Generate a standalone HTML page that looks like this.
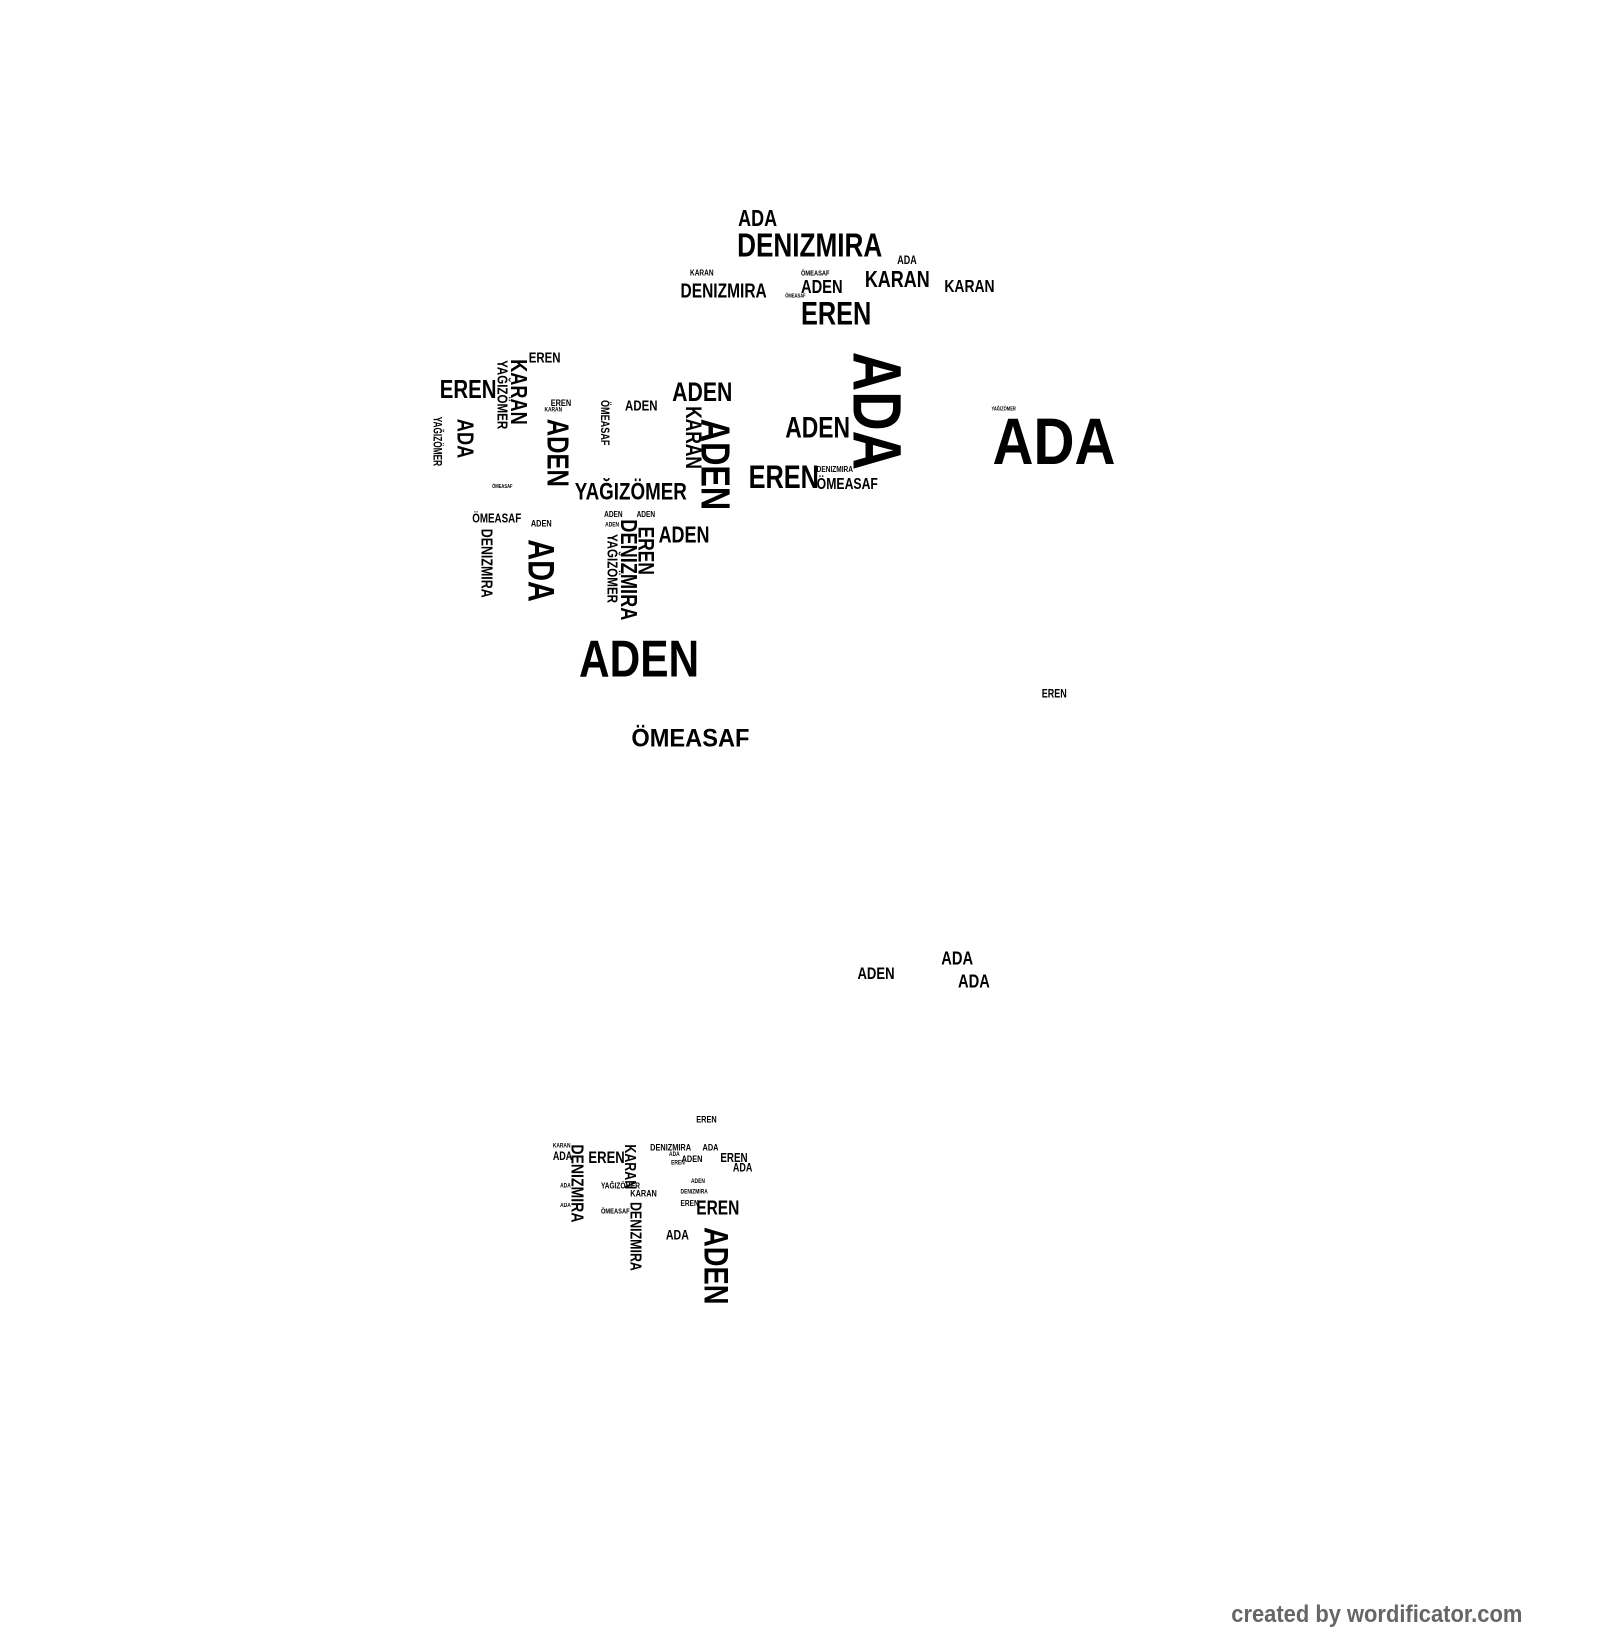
<!DOCTYPE html>
<html><head><meta charset="utf-8"><style>
html,body{margin:0;padding:0;background:#fff;width:1600px;height:1640px;overflow:hidden}
#c{position:absolute;left:0;top:0;width:1530px;height:1570px;transform:scale(1.047);transform-origin:0 0}
#c span{position:absolute;white-space:nowrap;line-height:1;font-family:"Liberation Sans Narrow","Liberation Sans",sans-serif;font-weight:bold;color:#000}
.h{margin-top:-0.114em;transform:scaleX(0.78);transform-origin:0 0}
.v{transform:rotate(90deg) scaleX(0.79);transform-origin:0 0;margin-left:0.114em}
</style></head><body><div id="c">
<span class="h" style="left:705px;top:200px;font-size:22px">ADA</span>
<span class="h" style="left:704px;top:222px;font-size:32px">DENIZMIRA</span>
<span class="h" style="left:857px;top:245px;font-size:11px">ADA</span>
<span class="h" style="left:659px;top:258px;font-size:8px">KARAN</span>
<span class="h" style="left:650px;top:271px;font-size:19px">DENIZMIRA</span>
<span class="h" style="left:765px;top:259px;font-size:7px">ÖMEASAF</span>
<span class="h" style="left:765px;top:267px;font-size:18px">ADEN</span>
<span class="h" style="left:826px;top:258px;font-size:22px">KARAN</span>
<span class="h" style="left:902px;top:267px;font-size:17px">KARAN</span>
<span class="h" style="left:765px;top:288px;font-size:31px">EREN</span>
<span class="h" style="left:750px;top:282px;font-size:5px">ÖMEASAF</span>
<span class="h" style="left:505px;top:336px;font-size:14px">EREN</span>
<span class="h" style="left:420px;top:363px;font-size:25px">EREN</span>
<span class="h" style="left:642px;top:364px;font-size:26px">ADEN</span>
<span class="h" style="left:526px;top:382px;font-size:9px">EREN</span>
<span class="h" style="left:520px;top:390px;font-size:6px">KARAN</span>
<span class="h" style="left:597px;top:382px;font-size:14px">ADEN</span>
<span class="h" style="left:750px;top:398px;font-size:28px">ADEN</span>
<span class="h" style="left:948px;top:398px;font-size:63px;transform:scaleX(0.86)">ADA</span>
<span class="h" style="left:947px;top:390px;font-size:5px">YAĞIZÖMER</span>
<span class="h" style="left:715px;top:444px;font-size:31px">EREN</span>
<span class="h" style="left:780px;top:446px;font-size:8px">DENIZMIRA</span>
<span class="h" style="left:780px;top:457px;font-size:15px">ÖMEASAF</span>
<span class="h" style="left:549px;top:461px;font-size:23px">YAĞIZÖMER</span>
<span class="h" style="left:470px;top:464px;font-size:5px">ÖMEASAF</span>
<span class="h" style="left:451px;top:490px;font-size:12px">ÖMEASAF</span>
<span class="h" style="left:507px;top:497px;font-size:9px">ADEN</span>
<span class="h" style="left:577px;top:489px;font-size:8px">ADEN</span>
<span class="h" style="left:608px;top:489px;font-size:8px">ADEN</span>
<span class="h" style="left:578px;top:500px;font-size:6px">ADEN</span>
<span class="h" style="left:629px;top:502px;font-size:22px">ADEN</span>
<span class="h" style="left:553px;top:610px;font-size:50px;transform:scaleX(0.81)">ADEN</span>
<span class="h" style="left:603px;top:697px;font-size:24px;transform:scaleX(0.94)">ÖMEASAF</span>
<span class="h" style="left:995px;top:659px;font-size:11px">EREN</span>
<span class="h" style="left:899px;top:908px;font-size:18px">ADA</span>
<span class="h" style="left:819px;top:925px;font-size:16px">ADEN</span>
<span class="h" style="left:915px;top:930px;font-size:18px">ADA</span>
<span class="h" style="left:665px;top:1066px;font-size:9px">EREN</span>
<span class="h" style="left:528px;top:1093px;font-size:6px">KARAN</span>
<span class="h" style="left:528px;top:1101px;font-size:11px">ADA</span>
<span class="h" style="left:562px;top:1101px;font-size:16px">EREN</span>
<span class="h" style="left:621px;top:1093px;font-size:9px">DENIZMIRA</span>
<span class="h" style="left:671px;top:1093px;font-size:9px">ADA</span>
<span class="h" style="left:651px;top:1104px;font-size:9px">ADEN</span>
<span class="h" style="left:639px;top:1101px;font-size:6px">ADA</span>
<span class="h" style="left:641px;top:1109px;font-size:6px">EREN</span>
<span class="h" style="left:688px;top:1101px;font-size:12px">EREN</span>
<span class="h" style="left:700px;top:1112px;font-size:11px">ADA</span>
<span class="h" style="left:574px;top:1130px;font-size:8px">YAĞIZÖMER</span>
<span class="h" style="left:602px;top:1137px;font-size:9px">KARAN</span>
<span class="h" style="left:660px;top:1127px;font-size:6px">ADEN</span>
<span class="h" style="left:650px;top:1137px;font-size:6px">DENIZMIRA</span>
<span class="h" style="left:650px;top:1147px;font-size:8px">EREN</span>
<span class="h" style="left:665px;top:1147px;font-size:19px">EREN</span>
<span class="h" style="left:574px;top:1155px;font-size:7px">ÖMEASAF</span>
<span class="h" style="left:636px;top:1174px;font-size:13px">ADA</span>
<span class="h" style="left:535px;top:1131px;font-size:6px">ADA</span>
<span class="h" style="left:535px;top:1150px;font-size:6px">ADA</span>
<span class="v" style="left:863px;top:336px;font-size:66px">ADA</span>
<span class="v" style="left:503px;top:343px;font-size:22px">KARAN</span>
<span class="v" style="left:485px;top:344px;font-size:14px">YAĞIZÖMER</span>
<span class="v" style="left:421px;top:398px;font-size:11px;transform:rotate(90deg) scaleX(0.72)">YAĞIZÖMER</span>
<span class="v" style="left:452px;top:400px;font-size:22px">ADA</span>
<span class="v" style="left:543px;top:400px;font-size:29px">ADEN</span>
<span class="v" style="left:581px;top:382px;font-size:11px">ÖMEASAF</span>
<span class="v" style="left:670px;top:388px;font-size:21px">KARAN</span>
<span class="v" style="left:698px;top:400px;font-size:39px">ADEN</span>
<span class="v" style="left:470px;top:505px;font-size:15px">DENIZMIRA</span>
<span class="v" style="left:530px;top:515px;font-size:35px">ADA</span>
<span class="v" style="left:590px;top:510px;font-size:14px">YAĞIZÖMER</span>
<span class="v" style="left:608px;top:496px;font-size:22px">DENIZMIRA</span>
<span class="v" style="left:625px;top:503px;font-size:21px">EREN</span>
<span class="v" style="left:558px;top:1093px;font-size:17px">DENIZMIRA</span>
<span class="v" style="left:607px;top:1093px;font-size:15px">KARAN</span>
<span class="v" style="left:612px;top:1148px;font-size:15px">DENIZMIRA</span>
<span class="v" style="left:697px;top:1172px;font-size:33px">ADEN</span>
<span style="left:1176px;top:1530px;font-size:23px;color:#666;transform:scaleX(0.91);transform-origin:0 0">created by wordificator.com</span>
</div></body></html>
